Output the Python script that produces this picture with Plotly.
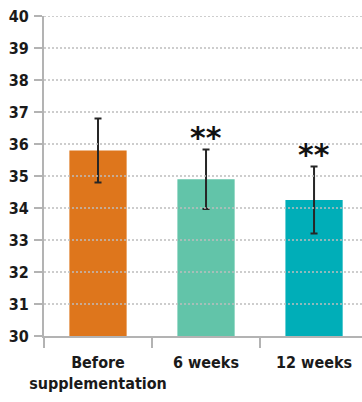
import plotly.graph_objects as go

# Mean value per time point with its standard deviation
categories = ["Before<br>supplementation", "6 weeks", "12 weeks"]
means = [35.8, 34.9, 34.25]
sd = [1.0, 0.93, 1.05]
significance = ["", "**", "**"]
y_ticks = list(range(30, 41))

bar_colors = ["#DE761C", "#62C4A9", "#00AEB8"]
label_font = "DejaVu Sans Condensed, Liberation Sans Narrow, sans-serif"
axis_grey = "#b3b3b3"

fig = go.Figure(
    go.Bar(
        x=categories,
        y=means,
        width=0.53,
        marker=dict(color=bar_colors, line_width=0),
        error_y=dict(type="data", array=sd, color="#262626", thickness=2, width=3.5),
        hoverinfo="skip",
    )
)

# Significance markers above the error bars
for cat, m, s, sig in zip(categories, means, sd, significance):
    if sig:
        fig.add_annotation(
            x=cat, y=m + s, xref="x", yref="y",
            text=sig, showarrow=False, yanchor="bottom", yshift=-8,
            font=dict(family="DejaVu Sans", size=30, color="#111111", weight="bold"),
        )

# Dotted horizontal guides drawn over the bars
for v in y_ticks[1:]:
    fig.add_shape(
        type="line", xref="paper", yref="y", x0=0, x1=1, y0=v, y1=v,
        line=dict(color="#bdbdbd", width=1.5, dash="2px,2px"), layer="above",
    )

fig.update_layout(
    width=362, height=402, autosize=False,
    margin=dict(l=44, r=0, t=16, b=66, autoexpand=False),
    paper_bgcolor="white", plot_bgcolor="white",
    showlegend=False,
    xaxis=dict(
        type="category", range=[-0.5, 2.444], automargin=False, tickangle=0,
        showline=True, linecolor=axis_grey, linewidth=2,
        ticks="outside", tickson="boundaries", ticklen=10,
        tickcolor=axis_grey, tickwidth=2, showgrid=False, ticklabelstandoff=11,
        tickfont=dict(family=label_font, size=16, color="#1a1a1a", weight="bold"),
    ),
    yaxis=dict(
        range=[30, 40], tickvals=y_ticks, automargin=False,
        showline=True, linecolor=axis_grey, linewidth=2,
        ticks="outside", ticklen=8, tickcolor=axis_grey, tickwidth=2,
        showgrid=False, zeroline=False, ticklabelstandoff=2,
        tickfont=dict(family=label_font, size=16, color="#1a1a1a", weight="bold"),
    ),
)

fig.write_html("out.html")
